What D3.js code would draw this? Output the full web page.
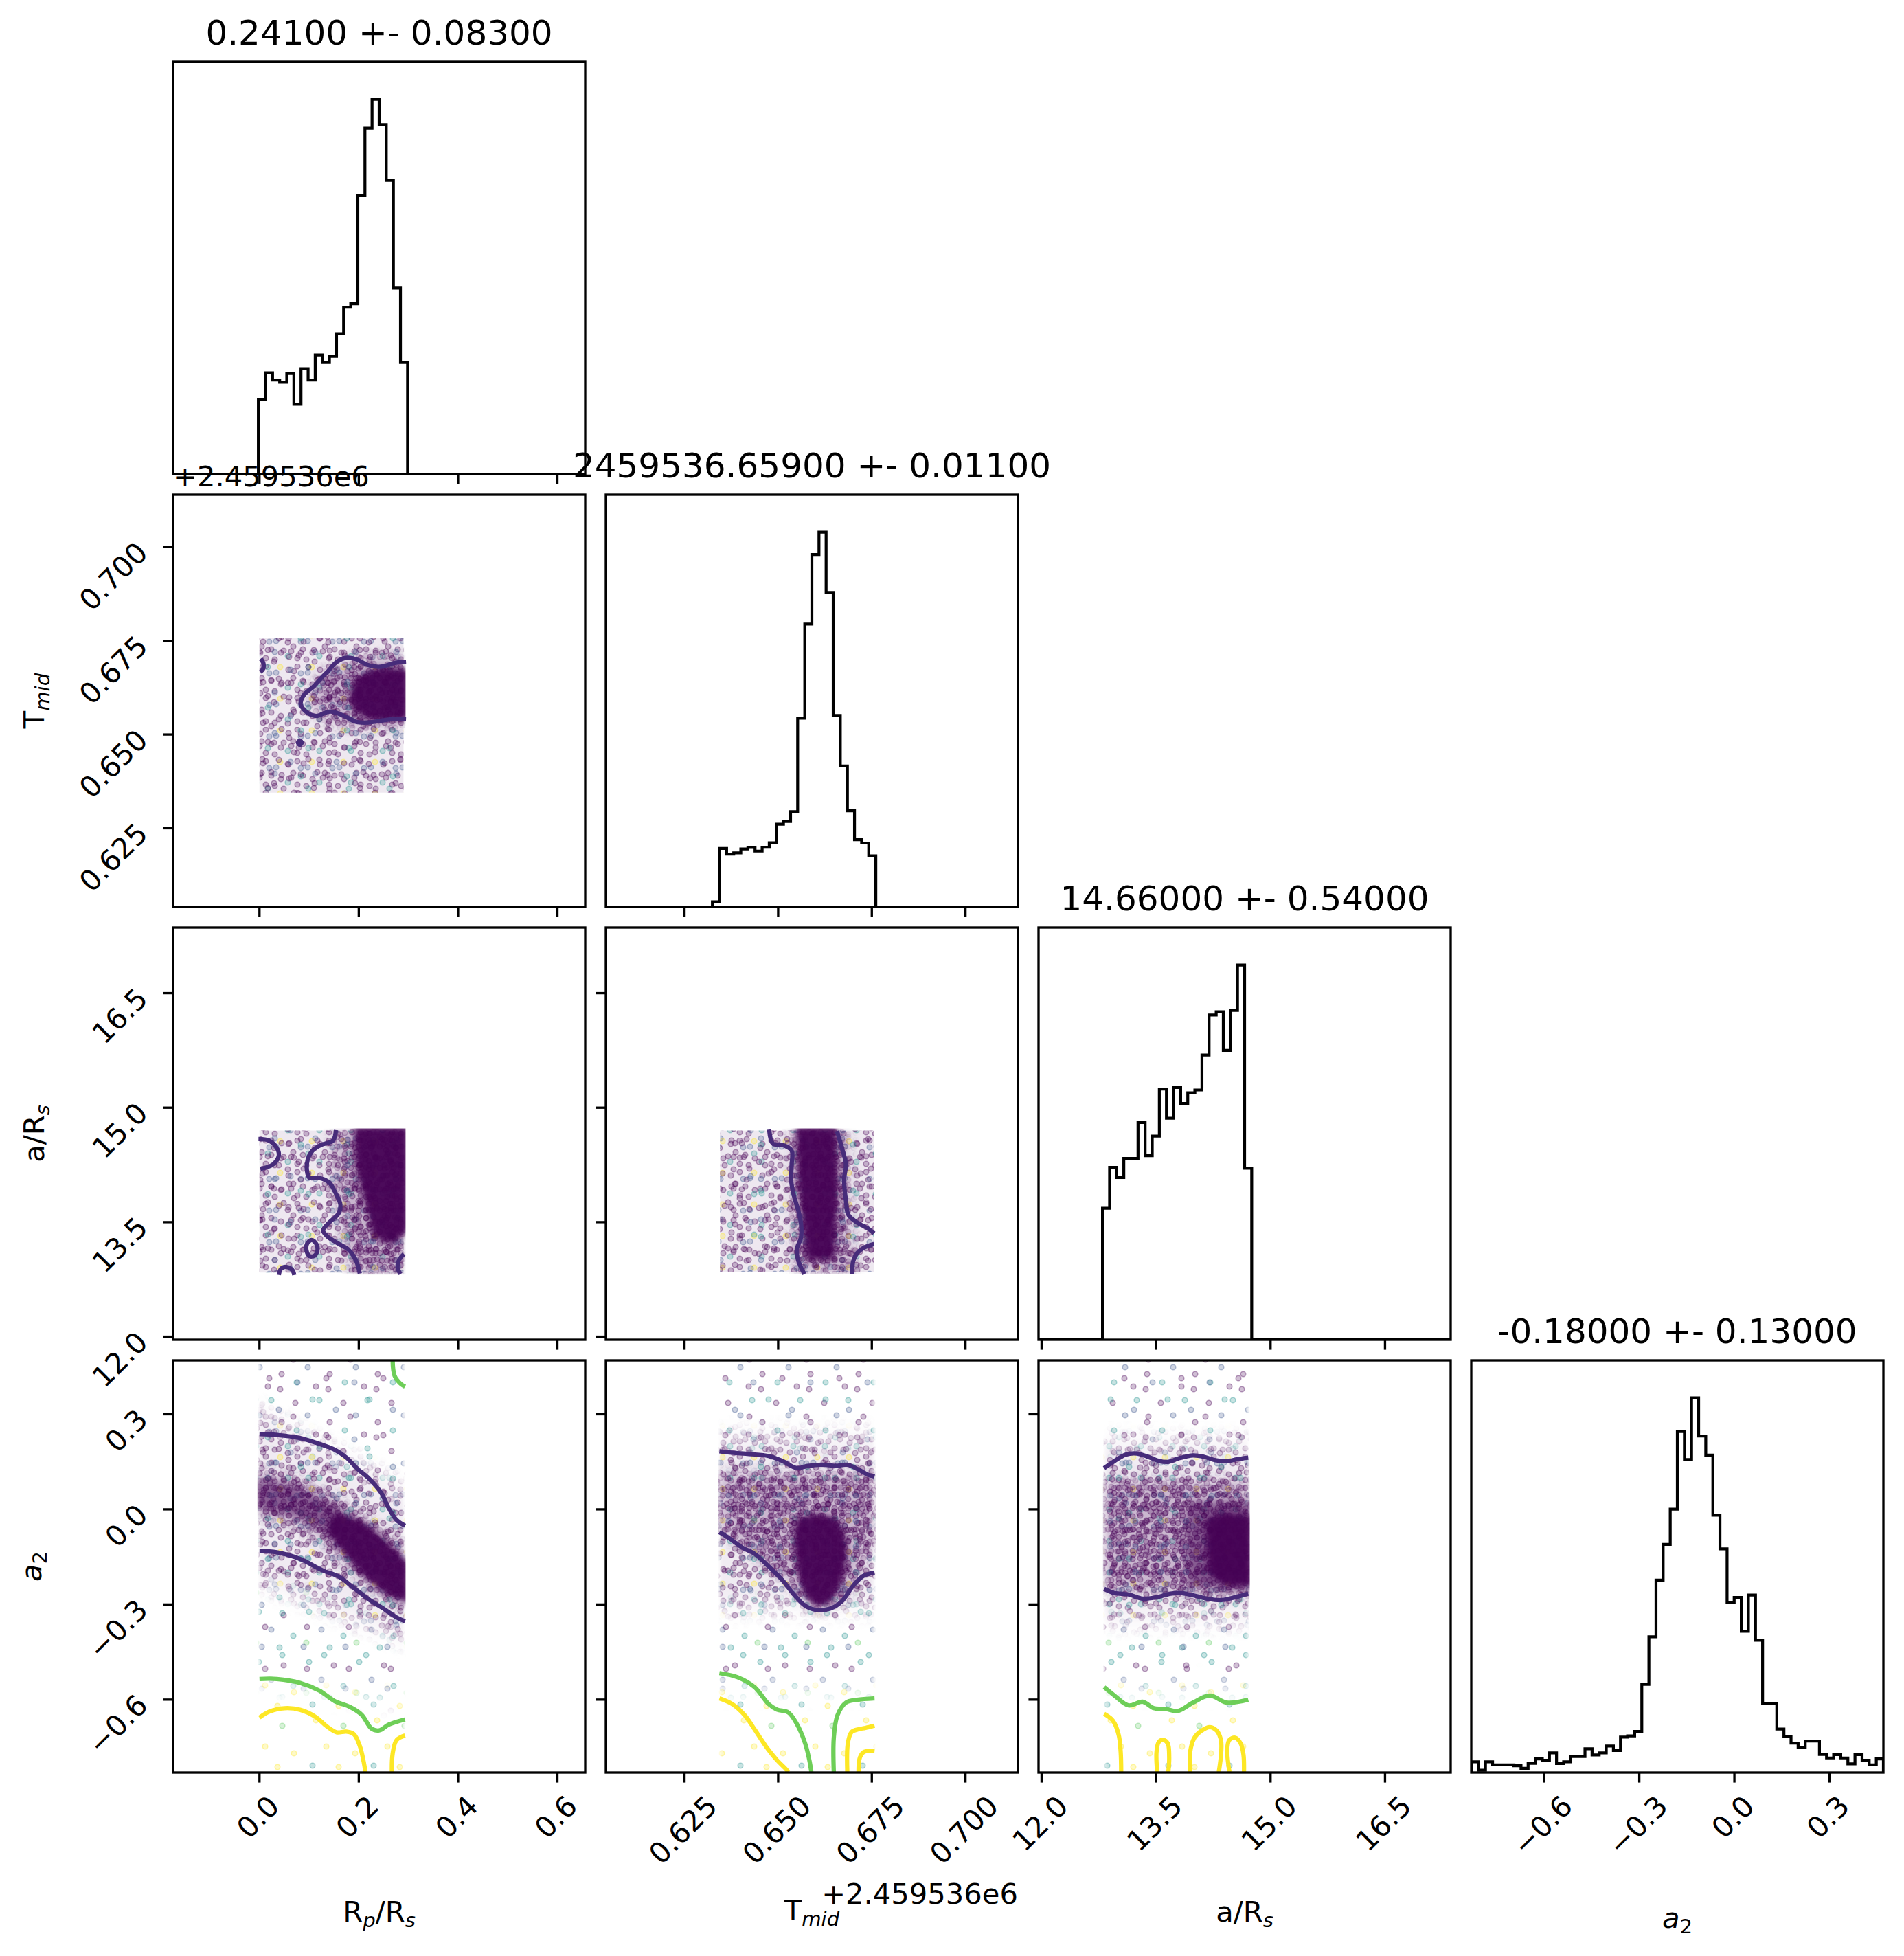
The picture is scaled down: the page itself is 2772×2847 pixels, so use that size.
<!DOCTYPE html>
<html>
<head>
<meta charset="utf-8">
<script src="https://cdn.jsdelivr.net/npm/d3@7"></script>
<style>
html,body{margin:0;padding:0;background:#ffffff;}
svg{display:block;}
text{font-family:"DejaVu Sans",sans-serif;fill:#000;}
</style>
</head>
<body>
<svg id="fig" width="2772" height="2847"></svg>
<script>
// ------------------------- DATA -------------------------
const titles = ["0.24100 +- 0.08300", "2459536.65900 +- 0.01100", "14.66000 +- 0.54000", "-0.18000 +- 0.13000"];
const axisRanges = [[-0.174, 0.656], [0.604, 0.714], [11.96, 17.36], [-0.83, 0.47]];
const tickValues = [[0.0, 0.2, 0.4, 0.6], [0.625, 0.650, 0.675, 0.700], [12.0, 13.5, 15.0, 16.5], [-0.6, -0.3, 0.0, 0.3]];
const tickLabels = [["0.0", "0.2", "0.4", "0.6"], ["0.625", "0.650", "0.675", "0.700"], ["12.0", "13.5", "15.0", "16.5"], ["\u22120.6", "\u22120.3", "0.0", "0.3"]];
const offsetText = "+2.459536e6";
// axis labels: [text, style]  n=normal, i=italic, si=subscript italic, sn=subscript normal
const axisLabelParts = [
  [["R", "n"], ["p", "si"], ["/R", "n"], ["s", "si"]],
  [["T", "n"], ["mid", "si"]],
  [["a/R", "n"], ["s", "si"]],
  [["a", "i"], ["2", "sn"]]
];

// histograms: 58 bins across each axis range; first non-empty bin and counts
const nBins = 58;
const histRpStart = 12;
const histRpCounts = [229, 312, 290, 283, 310, 215, 325, 290, 367, 344, 363, 433, 514, 525, 858, 1066, 1155, 1077, 905, 573, 344];
const histTmidStart = 15;
const histTmidCounts = [17, 196, 177, 181, 194, 199, 187, 200, 215, 277, 286, 319, 632, 947, 1180, 1255, 1053, 641, 472, 322, 225, 214, 171];
const histARsStart = 9;
const histARsCounts = [428, 561, 528, 590, 590, 707, 599, 663, 816, 721, 821, 769, 804, 813, 927, 1057, 1068, 942, 1072, 1220, 558];
const histA2Start = 0;
const histA2Counts = [36, 8, 36, 26, 26, 26, 23, 14, 31, 46, 41, 66, 30, 36, 54, 54, 80, 59, 66, 89, 74, 119, 123, 138, 296, 456, 646, 766, 884, 1145, 1051, 1258, 1130, 1066, 864, 751, 571, 588, 474, 596, 444, 231, 231, 146, 121, 99, 84, 106, 106, 61, 49, 60, 49, 29, 60, 41, 26, 46];

// scatter clouds (density regions, data units): [density layer, polygon]
const cloudRpTmid = [
  ["mix", [[0, 0.6345], [0.29, 0.6345], [0.29, 0.6757], [0, 0.6757]]],
  ["halo", [[0.10, 0.6595], [0.13, 0.6665], [0.20, 0.6705], [0.29, 0.6705], [0.29, 0.6525], [0.20, 0.6518], [0.13, 0.6540]]],
  ["core", [[0.30, 0.6675], [0.25, 0.6680], [0.215, 0.6668], [0.19, 0.6645], [0.18, 0.6605], [0.188, 0.6565], [0.215, 0.6542], [0.25, 0.6536], [0.30, 0.6540]]]
];
const cloudRpARs = [
  ["mix", [[0, 12.84], [0.29, 12.84], [0.29, 14.70], [0, 14.70]]],
  ["halo", [[0.15, 14.70], [0.29, 14.70], [0.29, 12.84], [0.19, 12.84], [0.17, 13.3], [0.155, 14.0]]],
  ["core", [[0.19, 14.75], [0.30, 14.75], [0.30, 13.4], [0.27, 13.2], [0.23, 13.3], [0.21, 13.8], [0.195, 14.2]]]
];
const cloudTmidARs = [
  ["mix", [[0.6345, 12.85], [0.6755, 12.85], [0.6755, 14.70], [0.6345, 14.70]]],
  ["halo", [[0.6535, 14.70], [0.6680, 14.70], [0.6690, 13.5], [0.6700, 12.85], [0.6550, 12.85], [0.6540, 13.6]]],
  ["core", [[0.6548, 14.75], [0.6655, 14.75], [0.6660, 14.0], [0.6655, 13.4], [0.6650, 13.0], [0.6575, 13.0], [0.6565, 13.5], [0.6552, 14.1]]]
];
const cloudRpA2 = [
  ["sparseTop", [[0, 0.60], [0.29, 0.60], [0.29, 0.02], [0, 0.26]]],
  ["band", [[0, 0.30], [0.29, 0.06], [0.29, -0.40], [0, -0.22]]],
  ["sparseTeal", [[0, -0.22], [0.29, -0.40], [0.29, -0.60], [0, -0.54]]],
  ["sparseYellow", [[0, -0.54], [0.29, -0.60], [0.29, -0.95], [0, -0.95]]],
  ["halo", [[0, 0.12], [0.066, 0.10], [0.136, 0.05], [0.20, -0.02], [0.29, -0.11], [0.29, -0.32], [0.20, -0.22], [0.12, -0.09], [0.066, -0.04], [0, -0.02]]],
  ["mid", [[-0.01, 0.096], [0.066, 0.077], [0.136, 0.028], [0.17, -0.01], [0.16, -0.10], [0.12, -0.058], [0.066, -0.021], [-0.01, 0.004]]],
  ["core", [[0.152, -0.009], [0.206, -0.033], [0.253, -0.095], [0.30, -0.168], [0.30, -0.298], [0.253, -0.267], [0.206, -0.205], [0.159, -0.119], [0.136, -0.070]]]
];
const cloudTmidA2 = [
  ["sparseTop", [[0.6345, 0.60], [0.6755, 0.60], [0.6755, 0.20], [0.6345, 0.20]]],
  ["band", [[0.6345, 0.22], [0.6755, 0.22], [0.6755, -0.30], [0.6345, -0.30]]],
  ["sparseTeal", [[0.6345, -0.30], [0.6755, -0.30], [0.6755, -0.56], [0.6345, -0.56]]],
  ["sparseYellow", [[0.6345, -0.56], [0.6755, -0.56], [0.6755, -0.95], [0.6345, -0.95]]],
  ["halo", [[0.6345, 0.11], [0.6755, 0.11], [0.6755, -0.10], [0.668, -0.28], [0.660, -0.32], [0.652, -0.22], [0.6345, -0.06]]],
  ["core", [[0.65458, -0.029], [0.6602, -0.0115], [0.66545, -0.025], [0.66808, -0.082], [0.66845, -0.153], [0.66695, -0.233], [0.66395, -0.295], [0.6602, -0.308], [0.6572, -0.277], [0.65533, -0.206], [0.6542, -0.118]]]
];
const cloudARsA2 = [
  ["sparseTop", [[12.83, 0.60], [14.70, 0.60], [14.70, 0.20], [12.83, 0.20]]],
  ["band", [[12.83, 0.20], [14.70, 0.20], [14.70, -0.34], [12.83, -0.34]]],
  ["sparseTeal", [[12.83, -0.34], [14.70, -0.34], [14.70, -0.56], [12.83, -0.56]]],
  ["sparseYellow", [[12.83, -0.56], [14.70, -0.56], [14.70, -0.95], [12.83, -0.95]]],
  ["halo", [[12.83, 0.09], [14.70, 0.09], [14.70, -0.27], [12.83, -0.25]]],
  ["mid", [[13.9, 0.02], [14.75, 0.03], [14.75, -0.26], [13.9, -0.24]]],
  ["core", [[14.15, -0.03], [14.40, -0.01], [14.75, -0.02], [14.75, -0.24], [14.40, -0.24], [14.18, -0.20]]]
];

// contour lines: [level index, closed, points]
const levelColors = ["#472c7a", "#6ece58", "#fde725"];
const contRpTmid = [
  [0, false, [[0.2951, 0.66943], [0.2724, 0.66911], [0.2439, 0.66808], [0.2195, 0.66848], [0.1951, 0.67007], [0.1748, 0.67047], [0.1545, 0.66927], [0.1382, 0.66689], [0.1260, 0.66530], [0.1098, 0.66291], [0.0894, 0.66052], [0.0829, 0.65814], [0.0935, 0.65615], [0.1138, 0.65496], [0.1423, 0.65615], [0.1707, 0.65496], [0.1951, 0.65337], [0.2195, 0.65321], [0.2480, 0.65376], [0.2724, 0.65416], [0.2951, 0.65416]]],
  [0, false, [[0.0024, 0.67023], [0.0081, 0.66888], [0.0065, 0.66729], [0.0016, 0.66673]]],
  [0, true, [[0.0813, 0.6484], [0.0850, 0.6478], [0.0813, 0.6472], [0.0776, 0.6478]]]
];
const contRpARs = [
  [0, false, [[0.154, 14.706], [0.148, 14.569], [0.124, 14.511], [0.106, 14.432], [0.097, 14.315], [0.096, 14.159], [0.101, 14.080], [0.120, 14.080], [0.140, 14.022], [0.153, 13.885], [0.163, 13.728], [0.159, 13.611], [0.140, 13.493], [0.128, 13.395], [0.136, 13.317], [0.159, 13.219], [0.179, 13.141], [0.194, 13.004], [0.202, 12.828]]],
  [0, false, [[-0.002, 14.589], [0.019, 14.569], [0.035, 14.472], [0.039, 14.374], [0.027, 14.256], [0.002, 14.198]]],
  [0, true, [[0.105, 13.266], [0.114, 13.219], [0.117, 13.141], [0.111, 13.063], [0.101, 13.055], [0.095, 13.121], [0.096, 13.219]]],
  [0, false, [[0.039, 12.808], [0.043, 12.886], [0.054, 12.914], [0.066, 12.875], [0.070, 12.808]]],
  [0, false, [[0.291, 13.082], [0.281, 13.004], [0.278, 12.906], [0.284, 12.820]]]
];
const contTmidARs = [
  [0, false, [[0.6476, 14.713], [0.6486, 14.529], [0.6512, 14.511], [0.6536, 14.438], [0.6536, 14.254], [0.6535, 14.033], [0.6542, 13.849], [0.6553, 13.665], [0.6561, 13.482], [0.6561, 13.298], [0.6550, 13.151], [0.6553, 13.004], [0.6570, 12.820]]],
  [0, false, [[0.6657, 14.695], [0.6670, 14.474], [0.6681, 14.254], [0.6676, 14.070], [0.6681, 13.776], [0.6688, 13.592], [0.6715, 13.482], [0.6737, 13.426], [0.6756, 13.353]]],
  [0, false, [[0.6756, 13.213], [0.6730, 13.169], [0.6711, 13.096], [0.6700, 12.985], [0.6698, 12.820]]]
];
const contRpA2 = [
  [0, false, [[0, 0.2373], [0.035, 0.2348], [0.0816, 0.2250], [0.1205, 0.2066], [0.1516, 0.1881], [0.1749, 0.1635], [0.1982, 0.1266], [0.2215, 0.0959], [0.2448, 0.0529], [0.2604, 0.0037], [0.2759, -0.0332], [0.2930, -0.0516]]],
  [0, false, [[0, -0.1316], [0.035, -0.1353], [0.0816, -0.1562], [0.1282, -0.1930], [0.1593, -0.2115], [0.1904, -0.2484], [0.2215, -0.2853], [0.2526, -0.3160], [0.2759, -0.3406], [0.2930, -0.3529]]],
  [1, false, [[0, -0.5349], [0.035, -0.5349], [0.0816, -0.5472], [0.1205, -0.5717], [0.1516, -0.6049], [0.1826, -0.6234], [0.2060, -0.6480], [0.2254, -0.6910], [0.2409, -0.6972], [0.2604, -0.6787], [0.2930, -0.6627]]],
  [1, false, [[0.2681, 0.4709], [0.2720, 0.4217], [0.2837, 0.3971], [0.2930, 0.3873]]],
  [2, false, [[0, -0.6566], [0.0194, -0.6381], [0.0505, -0.6271], [0.0816, -0.6320], [0.1127, -0.6541], [0.1360, -0.6849], [0.1554, -0.7033], [0.1749, -0.7008], [0.1904, -0.7094], [0.2021, -0.7463], [0.2098, -0.7955], [0.2137, -0.8324]]],
  [2, false, [[0.2666, -0.8324], [0.2681, -0.7709], [0.2759, -0.7279], [0.2930, -0.7131]]]
];
const contTmidA2 = [
  [0, false, [[0.63432, 0.1833], [0.63770, 0.1789], [0.64220, 0.1745], [0.64745, 0.1683], [0.65120, 0.1523], [0.65495, 0.1302], [0.65795, 0.1373], [0.66170, 0.1408], [0.66545, 0.1373], [0.66845, 0.1408], [0.67145, 0.1258], [0.67370, 0.1107], [0.67573, 0.1036]]],
  [0, false, [[0.63432, -0.0717], [0.63695, -0.0912], [0.64070, -0.1222], [0.64370, -0.1399], [0.64745, -0.1798], [0.65120, -0.2241], [0.65420, -0.2684], [0.65720, -0.3038], [0.66020, -0.3171], [0.66395, -0.3127], [0.66695, -0.2905], [0.66995, -0.2418], [0.67258, -0.2108], [0.67573, -0.1993]]],
  [1, false, [[0.63432, -0.5164], [0.63920, -0.5297], [0.64370, -0.5607], [0.64745, -0.6138], [0.64970, -0.6315], [0.65270, -0.6404], [0.65495, -0.6758], [0.65720, -0.7378], [0.65833, -0.7910], [0.65885, -0.8282]]],
  [1, false, [[0.66485, -0.8282], [0.66485, -0.7201], [0.66583, -0.6493], [0.66808, -0.6094], [0.67108, -0.6005], [0.67573, -0.5961]]],
  [2, false, [[0.63432, -0.5961], [0.63770, -0.6138], [0.64108, -0.6493], [0.64370, -0.6935], [0.64670, -0.7467], [0.64970, -0.7910], [0.65195, -0.8175], [0.65270, -0.8282]]],
  [2, false, [[0.66845, -0.8282], [0.66860, -0.7378], [0.66958, -0.7024], [0.67145, -0.6935], [0.67333, -0.6891], [0.67573, -0.6820]]],
  [2, false, [[0.67145, -0.8282], [0.67183, -0.7821], [0.67295, -0.7644], [0.67573, -0.7626]]]
];
const contARsA2 = [
  [0, false, [[12.819, 0.1302], [12.955, 0.1523], [13.102, 0.1727], [13.249, 0.1763], [13.396, 0.1656], [13.543, 0.1523], [13.653, 0.1497], [13.800, 0.1612], [13.984, 0.1701], [14.131, 0.1656], [14.278, 0.1550], [14.425, 0.1523], [14.572, 0.1585], [14.708, 0.1630]]],
  [0, false, [[12.819, -0.2507], [12.955, -0.2640], [13.139, -0.2684], [13.323, -0.2817], [13.506, -0.2772], [13.690, -0.2657], [13.837, -0.2640], [13.984, -0.2710], [14.168, -0.2817], [14.351, -0.2861], [14.535, -0.2772], [14.708, -0.2657]]],
  [1, false, [[12.819, -0.5607], [12.955, -0.5872], [13.139, -0.6182], [13.323, -0.6067], [13.470, -0.6271], [13.616, -0.6289], [13.782, -0.6359], [13.984, -0.6094], [14.204, -0.5872], [14.425, -0.6094], [14.708, -0.6005]]],
  [2, false, [[12.819, -0.6448], [12.937, -0.6670], [13.010, -0.7113], [13.036, -0.7644], [13.043, -0.8282]]],
  [2, false, [[13.514, -0.8282], [13.506, -0.7644], [13.536, -0.7334], [13.598, -0.7272], [13.653, -0.7378], [13.672, -0.7821], [13.661, -0.8282]]],
  [2, false, [[13.947, -0.8282], [13.947, -0.7644], [14.002, -0.7201], [14.094, -0.6980], [14.204, -0.6865], [14.296, -0.6980], [14.351, -0.7290], [14.351, -0.7733], [14.322, -0.8282]]],
  [2, false, [[14.461, -0.8282], [14.432, -0.7555], [14.461, -0.7272], [14.535, -0.7201], [14.608, -0.7378], [14.645, -0.7733], [14.652, -0.8282]]]
];

// ------------------------- LAYOUT / STYLE -------------------------
const W = 2772, H = 2847;
const L = 252, T = 90, S = 600, G = 30;
const px = j => L + j * (S + G);
const py = i => T + i * (S + G);
const FS = 41.67, TITLE_FS = 50;
const SPINE_W = 3.33, TICK_LEN = 14.6, TICK_W = 3.33;

const svg = d3.select("#fig");
svg.append("rect").attr("width", W).attr("height", H).attr("fill", "#ffffff");
const defs = svg.append("defs");

const dotColors = {P: [68, 1, 84], B: [59, 82, 139], T: [33, 145, 140], G: [94, 201, 98], Y: [253, 231, 37]};
const rgba = (c, a) => `rgba(${c[0]},${c[1]},${c[2]},${a})`;
// speckle textures (marker style) used to render the density of the scatter clouds
const patternDefs = {
  mixA: [46, [[6,9,"P"],[19,4,"P"],[34,13,"B"],[41,30,"P"],[13,21,"P"],[27,25,"P"],[5,35,"T"],[19,38,"P"],[32,40,"P"],[40,5,"Y"],[10,28,"P"],[24,14,"B"]]],
  mixB: [59, [[8,12,"P"],[25,6,"P"],[45,19,"P"],[15,33,"P"],[36,27,"T"],[52,44,"P"],[6,50,"P"],[29,49,"P"],[46,5,"B"]]],
  mixC: [67, [[11,9,"P"],[33,16,"P"],[55,8,"P"],[21,37,"B"],[47,33,"P"],[60,52,"P"],[8,56,"P"],[36,58,"T"]]],
  denseP: [31, [[6,6,"P"],[17,5,"P"],[26,12,"P"],[10,16,"P"],[21,20,"P"],[6,25,"P"],[15,26,"P"],[26,26,"P"]]],
  denseQ: [37, [[7,9,"P"],[22,6,"P"],[31,20,"P"],[14,23,"P"],[5,31,"P"],[25,31,"B"]]],
  sparseTop: [70, [[10,12,"P"],[45,8,"T"],[28,30,"B"],[60,40,"P"],[12,52,"T"],[40,58,"P"],[58,62,"P"]]],
  sparseTop2: [83, [[18,20,"B"],[60,14,"P"],[40,45,"T"],[74,60,"B"],[12,70,"P"]]],
  sparseTeal: [73, [[12,10,"T"],[48,15,"P"],[30,36,"B"],[62,45,"T"],[8,55,"G"],[42,62,"T"]]],
  sparseTeal2: [61, [[15,18,"B"],[45,30,"T"],[20,50,"P"]]],
  sparseYellow: [89, [[15,12,"Y"],[55,20,"G"],[30,50,"Y"],[72,60,"Y"],[10,78,"T"],[48,80,"Y"]]]
};
Object.entries(patternDefs).forEach(([id, [size, dots]]) => {
  const p = defs.append("pattern").attr("id", id).attr("patternUnits", "userSpaceOnUse")
    .attr("width", size).attr("height", size);
  dots.forEach(d => p.append("circle").attr("cx", d[0]).attr("cy", d[1]).attr("r", 3.8)
    .attr("fill", rgba(dotColors[d[2]], 0.25)).attr("stroke", rgba(dotColors[d[2]], 0.36)).attr("stroke-width", 1.6));
});
[["blurCore", 4, 4], ["blurMid", 6, 6], ["blurHalo", 8, 8], ["blurMask", 10, 10], ["blurBand", 2, 16]].forEach(([id, sx, sy]) => {
  defs.append("filter").attr("id", id).attr("x", "-50%").attr("y", "-50%").attr("width", "200%").attr("height", "200%")
    .append("feGaussianBlur").attr("stdDeviation", `${sx} ${sy}`);
});
// how each density layer is rendered
const layerStyle = {
  mix: [{fill: "#440154", op: 0.09}, {pat: "mixA"}, {pat: "mixB"}, {pat: "mixC"}],
  band: [{fill: "#440154", op: 0.08, mask: "blurBand"}, {pat: "mixA", mask: "blurBand"}, {pat: "mixB", mask: "blurBand"}, {pat: "mixC", mask: "blurBand"}],
  sparseTop: [{pat: "sparseTop", mask: "blurBand"}, {pat: "sparseTop2", mask: "blurBand"}],
  sparseTeal: [{pat: "sparseTeal", mask: "blurBand"}, {pat: "sparseTeal2", mask: "blurBand"}],
  sparseYellow: [{pat: "sparseYellow", mask: "blurBand"}],
  halo: [{fill: "#440154", op: 0.22, filter: "blurHalo"}, {pat: "denseP", mask: "blurMask"}, {pat: "denseQ", mask: "blurMask"}],
  mid: [{fill: "#440154", op: 0.5, filter: "blurMid"}],
  core: [{fill: "#440154", op: 0.94, filter: "blurCore"}]
};
const boundingLayers = ["mix", "band", "sparseTop", "sparseTeal", "sparseYellow"];

const xs = axisRanges.map((r, j) => d3.scaleLinear().domain(r).range([px(j), px(j) + S]));
const ys = axisRanges.map((r, i) => d3.scaleLinear().domain(r).range([py(i) + S, py(i)]));

const hists = [[histRpStart, histRpCounts], [histTmidStart, histTmidCounts], [histARsStart, histARsCounts], [histA2Start, histA2Counts]];
const clouds = {"1_0": cloudRpTmid, "2_0": cloudRpARs, "2_1": cloudTmidARs, "3_0": cloudRpA2, "3_1": cloudTmidA2, "3_2": cloudARsA2};
const contours = {"1_0": contRpTmid, "2_0": contRpARs, "2_1": contTmidARs, "3_0": contRpA2, "3_1": contTmidA2, "3_2": contARsA2};

let maskCount = 0;
for (let i = 0; i < 4; i++) {
  for (let j = 0; j <= i; j++) {
    const x0 = px(j), y0 = py(i);
    const cid = `clip_${i}_${j}`;
    defs.append("clipPath").attr("id", cid).append("rect").attr("x", x0).attr("y", y0).attr("width", S).attr("height", S);
    const g = svg.append("g");
    const inner = g.append("g").attr("clip-path", `url(#${cid})`);
    const xS = xs[j];
    if (i === j) {
      const [start, counts] = hists[i];
      const full = new Array(nBins).fill(0);
      counts.forEach((c, m) => { full[start + m] = c; });
      const r = axisRanges[i];
      const edge = b => r[0] + b * (r[1] - r[0]) / nBins;
      const pts = [[edge(0), 0]];
      full.forEach((c, b) => { pts.push([edge(b), c]); pts.push([edge(b + 1), c]); });
      pts.push([edge(nBins), 0]);
      const yH = d3.scaleLinear().domain([0, 1.1 * d3.max(full)]).range([y0 + S, y0]);
      inner.append("path").attr("d", d3.line().x(d => xS(d[0])).y(d => yH(d[1]))(pts))
        .attr("fill", "none").attr("stroke", "#000").attr("stroke-width", 4.2).attr("stroke-linejoin", "miter");
    } else {
      const yS = ys[i];
      const key = `${i}_${j}`;
      const cloud = clouds[key];
      // outer box of the cloud = extent of the speckle (non-core) regions
      const boxPts = cloud.filter(c => boundingLayers.indexOf(c[0]) >= 0).flatMap(c => c[1]);
      const bx = d3.extent(boxPts, d => xS(d[0])), by = d3.extent(boxPts, d => yS(d[1]));
      const ccid = `cclip_${key}`;
      defs.append("clipPath").attr("id", ccid).append("rect")
        .attr("x", bx[0] - 3).attr("y", by[0] - 3).attr("width", bx[1] - bx[0] + 6).attr("height", by[1] - by[0] + 6);
      const cg = inner.append("g").attr("clip-path", `url(#${ccid})`);
      const polyLine = d3.line().x(d => xS(d[0])).y(d => yS(d[1]));
      cloud.forEach(([layer, poly]) => {
        const d = polyLine(poly) + "Z";
        layerStyle[layer].forEach(st => {
          if (st.mask) {
            const mid = `mask_${maskCount++}`;
            defs.append("mask").attr("id", mid).attr("maskUnits", "userSpaceOnUse")
              .attr("x", 0).attr("y", 0).attr("width", W).attr("height", H)
              .append("path").attr("d", d).attr("fill", "#ffffff").attr("filter", `url(#${st.mask})`);
            cg.append("g").attr("mask", `url(#${mid})`).append("rect")
              .attr("x", bx[0] - 3).attr("y", by[0] - 3).attr("width", bx[1] - bx[0] + 6).attr("height", by[1] - by[0] + 6)
              .attr("fill", st.pat ? `url(#${st.pat})` : st.fill).attr("fill-opacity", st.pat ? 1 : st.op);
          } else {
            const p = cg.append("path").attr("d", d);
            if (st.pat) p.attr("fill", `url(#${st.pat})`);
            else p.attr("fill", st.fill).attr("fill-opacity", st.op);
            if (st.filter) p.attr("filter", `url(#${st.filter})`);
          }
        });
      });
      contours[key].forEach(([lvl, closed, pts]) => {
        const ln = d3.line().x(d => xS(d[0])).y(d => yS(d[1]))
          .curve(closed ? d3.curveCatmullRomClosed.alpha(0.5) : d3.curveCatmullRom.alpha(0.5));
        inner.append("path").attr("d", ln(pts)).attr("fill", "none")
          .attr("stroke", levelColors[lvl]).attr("stroke-width", 6.25)
          .attr("stroke-linecap", "butt").attr("stroke-linejoin", "round");
      });
    }
    // spines
    g.append("rect").attr("x", x0).attr("y", y0).attr("width", S).attr("height", S)
      .attr("fill", "none").attr("stroke", "#000").attr("stroke-width", SPINE_W);
    // bottom ticks
    tickValues[j].forEach(v => {
      g.append("line").attr("x1", xS(v)).attr("x2", xS(v)).attr("y1", y0 + S).attr("y2", y0 + S + TICK_LEN)
        .attr("stroke", "#000").attr("stroke-width", TICK_W);
    });
    // left ticks
    if (j < i) {
      tickValues[i].forEach(v => {
        g.append("line").attr("x1", x0 - TICK_LEN).attr("x2", x0).attr("y1", ys[i](v)).attr("y2", ys[i](v))
          .attr("stroke", "#000").attr("stroke-width", TICK_W);
      });
    }
  }
}

// x tick labels (bottom row), rotated 45 degrees
const bottom = py(3) + S;
for (let j = 0; j < 4; j++) {
  tickValues[j].forEach((v, k) => {
    const gg = svg.append("g");
    const t = gg.append("text").attr("font-size", FS).attr("text-anchor", "middle").attr("y", 11.5).text(tickLabels[j][k]);
    const w = t.node().getComputedTextLength();
    const cy = bottom + 29.2 + (w + 40) * 0.7071 / 2;
    gg.attr("transform", `translate(${xs[j](v)},${cy}) rotate(-45)`);
  });
}
// y tick labels (left column), rotated 45 degrees
for (let i = 1; i < 4; i++) {
  tickValues[i].forEach((v, k) => {
    svg.append("text").attr("font-size", FS).attr("text-anchor", "end").attr("x", 0).attr("y", 15)
      .attr("transform", `translate(${L - 45},${ys[i](v)}) rotate(-45)`).text(tickLabels[i][k]);
  });
}
// offset texts for the T_mid axes
svg.append("text").attr("font-size", FS).attr("x", L).attr("y", py(1) - 12.5).text(offsetText);
svg.append("text").attr("font-size", FS).attr("text-anchor", "end").attr("x", px(1) + S).attr("y", 2771).text(offsetText);

// titles over diagonal panels
titles.forEach((t, k) => {
  svg.append("text").attr("font-size", TITLE_FS).attr("text-anchor", "middle")
    .attr("x", px(k) + S / 2).attr("y", py(k) - 25).text(t);
});

// axis labels
function addLabel(sel, parts) {
  let shifted = false;
  parts.forEach(([txt, st]) => {
    const ts = sel.append("tspan").text(txt);
    const sub = st[0] === "s";
    if (sub && !shifted) { ts.attr("dy", 8); shifted = true; }
    else if (!sub && shifted) { ts.attr("dy", -8); shifted = false; }
    if (sub) ts.attr("font-size", FS * 0.7);
    if (st.indexOf("i") >= 0) ts.attr("font-style", "italic");
  });
}
const xLabelBase = [2797, 2795, 2797, 2806];
axisLabelParts.forEach((parts, j) => {
  const t = svg.append("text").attr("font-size", FS).attr("text-anchor", "middle")
    .attr("x", px(j) + S / 2).attr("y", xLabelBase[j]);
  addLabel(t, parts);
});
const yLabelBase = [64, 64, 64, 60];
for (let i = 1; i < 4; i++) {
  const cy = py(i) + S / 2;
  const t = svg.append("text").attr("font-size", FS).attr("text-anchor", "middle")
    .attr("x", 0).attr("y", 0).attr("transform", `translate(${yLabelBase[i]},${cy}) rotate(-90)`);
  addLabel(t, axisLabelParts[i]);
}
</script>
</body>
</html>
